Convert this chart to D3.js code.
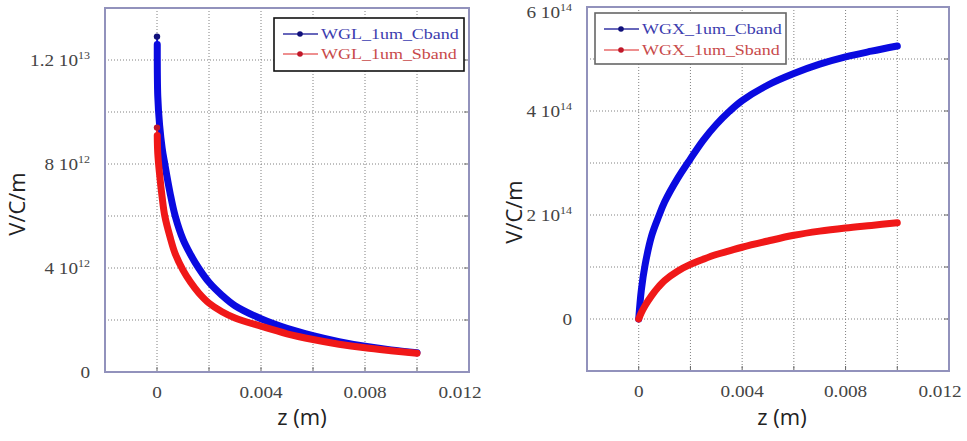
<!DOCTYPE html>
<html>
<head>
<meta charset="utf-8">
<script src="https://cdn.jsdelivr.net/npm/d3@7"></script>
<style>
  body { margin: 0; background: #fff; }
  svg { display: block; }
</style>
</head>
<body>
<div class="chart-area"></div>
<script>
// left panel (WGL) : z in m, values in V/C/m
const zLeft = [0, 0.00001, 0.00003, 0.0001, 0.0002, 0.0003, 0.0005, 0.0007, 0.001, 0.0013, 0.0016,
  0.002, 0.0025, 0.003, 0.004, 0.005, 0.006, 0.007, 0.008, 0.009, 0.010];
const wglCband = [12.9e12, 12.6e12, 10.6e12, 9.5e12, 8.6e12, 8.0e12, 6.9e12, 6.0e12, 5.1e12, 4.5e12, 4.0e12,
  3.45e12, 2.95e12, 2.55e12, 2.05e12, 1.68e12, 1.40e12, 1.17e12, 0.99e12, 0.85e12, 0.74e12];
const wglSband = [9.4e12, 9.1e12, 8.4e12, 7.6e12, 6.7e12, 6.0e12, 5.2e12, 4.55e12, 3.92e12, 3.44e12, 3.05e12,
  2.65e12, 2.32e12, 2.08e12, 1.76e12, 1.47e12, 1.25e12, 1.07e12, 0.93e12, 0.82e12, 0.72e12];

// right panel (WGX)
const zRight = [0, 0.0001, 0.00025, 0.0005, 0.00077, 0.001, 0.0015, 0.002, 0.0025, 0.003, 0.0035,
  0.004, 0.005, 0.006, 0.007, 0.008, 0.009, 0.010];
const wgxCband = [0, 0.55e14, 1.05e14, 1.6e14, 1.97e14, 2.25e14, 2.7e14, 3.08e14, 3.44e14, 3.74e14, 3.99e14,
  4.2e14, 4.5e14, 4.72e14, 4.9e14, 5.04e14, 5.15e14, 5.25e14];
const wgxSband = [0, 0.12e14, 0.26e14, 0.45e14, 0.62e14, 0.74e14, 0.92e14, 1.05e14, 1.15e14, 1.24e14, 1.31e14,
  1.38e14, 1.5e14, 1.61e14, 1.69e14, 1.75e14, 1.8e14, 1.85e14];

// tick labels
const xTickValues = [0, 0.004, 0.008, 0.012];
const xTickLabels = ["0", "0.004", "0.008", "0.012"];
const yTickValuesL = [0, 4e12, 8e12, 1.2e13];
const yTickLabelsL = [["0", ""], ["4 10", "12"], ["8 10", "12"], ["1.2 10", "13"]];
const yTickValuesR = [0, 2e14, 4e14, 6e14];
const yTickLabelsR = [["0", ""], ["2 10", "14"], ["4 10", "14"], ["6 10", "14"]];

const legendL = ["WGL_1um_Cband", "WGL_1um_Sband"];
const legendR = ["WGX_1um_Cband", "WGX_1um_Sband"];

let width = 967;
let height = 441;

const svg = d3.select(".chart-area").append("svg")
  .attr("width", width)
  .attr("height", height);

const blue = "#0a0ae0";
const red = "#f01818";
const frameColor = "#9292bc";
const serif = "'Liberation Serif', 'DejaVu Serif', serif";
const sans = "'Open Sans', 'Noto Sans', sans-serif";

function drawPanel(p) {
  const x = d3.scaleLinear().domain([-0.002, 0.012]).range([p.left, p.right]);
  const y = d3.scaleLinear().domain(p.yDomain).range([p.bottom, p.top]);
  const g = svg.append("g");

  // dotted grid
  g.append("g").selectAll("line")
    .data(x.ticks(7))
    .join("line")
    .attr("x1", d => x(d)).attr("x2", d => x(d))
    .attr("y1", p.top).attr("y2", p.bottom)
    .attr("stroke", "#808080")
    .attr("stroke-dasharray", "1,2");
  g.append("g").selectAll("line")
    .data(y.ticks(7))
    .join("line")
    .attr("x1", p.left).attr("x2", p.right)
    .attr("y1", d => y(d)).attr("y2", d => y(d))
    .attr("stroke", "#808080")
    .attr("stroke-dasharray", "1,2");

  // small inner ticks
  g.append("g").selectAll("line")
    .data(x.ticks(7))
    .join("line")
    .attr("x1", d => x(d)).attr("x2", d => x(d))
    .attr("y1", p.bottom).attr("y2", p.bottom - 5)
    .attr("stroke", "#666");
  g.append("g").selectAll("line")
    .data(y.ticks(7))
    .join("line")
    .attr("x1", p.right).attr("x2", p.right - 5)
    .attr("y1", d => y(d)).attr("y2", d => y(d))
    .attr("stroke", "#666");

  // frame
  g.append("rect")
    .attr("x", p.left).attr("y", p.top)
    .attr("width", p.right - p.left).attr("height", p.bottom - p.top)
    .attr("fill", "none")
    .attr("stroke", frameColor)
    .attr("stroke-width", 2);

  // x tick labels (last one kept inside the frame edge)
  g.append("g").selectAll("text")
    .data(xTickValues)
    .join("text")
    .attr("transform", d => `translate(${Math.min(x(d), p.right - 9)},${p.bottom + 26}) scale(1.2,1)`)
    .attr("text-anchor", "middle")
    .attr("font-family", serif)
    .attr("font-size", 16)
    .attr("fill", "#444")
    .text((d, i) => xTickLabels[i]);

  // y tick labels with exponent
  const yl = g.append("g").selectAll("text")
    .data(p.yTicks)
    .join("text")
    .attr("transform", d => `translate(${p.left - 15},${Math.max(y(d) + 6, p.top + 11)}) scale(1.2,1)`)
    .attr("text-anchor", "end")
    .attr("font-family", serif)
    .attr("font-size", 16)
    .attr("fill", "#444");
  yl.append("tspan").text((d, i) => p.yLabels[i][0]);
  yl.append("tspan")
    .attr("dy", -7)
    .attr("font-size", 10)
    .text((d, i) => p.yLabels[i][1]);

  // curves
  const line = d3.line()
    .x(d => x(d[0]))
    .y(d => y(d[1]))
    .curve(d3.curveCatmullRom.alpha(0.5));

  p.series.forEach(s => {
    const pts = d3.zip(p.z, s.values);
    const start = s.dotFirst ? 1 : 0;
    if (s.dotFirst) {
      g.append("path")
        .attr("d", d3.line().x(d => x(d[0])).y(d => y(d[1]))(pts.slice(0, 2)))
        .attr("fill", "none")
        .attr("stroke", s.color)
        .attr("stroke-width", 2);
      g.append("circle")
        .attr("cx", x(pts[0][0])).attr("cy", y(pts[0][1]))
        .attr("r", 3.2)
        .attr("fill", s.dark);
    }
    g.append("path")
      .attr("d", line(pts.slice(start)))
      .attr("fill", "none")
      .attr("stroke", s.color)
      .attr("stroke-width", 7)
      .attr("stroke-linecap", "round")
      .attr("stroke-linejoin", "round");
  });

  // legend
  const lg = g.append("g");
  lg.append("rect")
    .attr("x", p.legend.x).attr("y", p.legend.y)
    .attr("width", p.legend.w).attr("height", p.legend.h)
    .attr("fill", "#fff")
    .attr("stroke", p.legend.stroke)
    .attr("stroke-width", 1.6);
  const items = lg.selectAll("g")
    .data(p.series)
    .join("g")
    .attr("transform", (d, i) => `translate(${p.legend.x + 9},${p.legend.y + p.legend.row0 + i * p.legend.step})`);
  items.append("line")
    .attr("x1", 0).attr("x2", 35)
    .attr("stroke", d => d.legendLine)
    .attr("stroke-width", 1.5);
  items.append("circle")
    .attr("cx", 17).attr("r", 2.8)
    .attr("fill", d => d.dark);
  items.append("text")
    .attr("transform", "translate(38,5) scale(1.2,1)")
    .attr("font-family", serif)
    .attr("font-size", 15)
    .attr("fill", d => d.textColor)
    .text(d => d.name);

  // axis titles
  g.append("text")
    .attr("x", p.xTitleX).attr("y", 425)
    .attr("text-anchor", "middle")
    .attr("font-family", sans)
    .attr("font-size", 22)
    .attr("fill", "#222")
    .text("z (m)");
  g.append("text")
    .attr("transform", `translate(${p.yTitleX},${p.yTitleY}) rotate(-90)`)
    .attr("text-anchor", "middle")
    .attr("font-family", sans)
    .attr("font-size", 22)
    .attr("fill", "#222")
    .text("V/C/m");
}

drawPanel({
  left: 105, right: 469, top: 8, bottom: 372,
  yDomain: [0, 1.4e13],
  yTicks: yTickValuesL, yLabels: yTickLabelsL,
  z: zLeft,
  series: [
    {name: legendL[0], values: wglCband, color: blue, dark: "#10107a", legendLine: "#3434a4", textColor: "#3c3cae", dotFirst: true},
    {name: legendL[1], values: wglSband, color: red, dark: "#c0182a", legendLine: "#e86a6a", textColor: "#c84a4a", dotFirst: true}
  ],
  legend: {x: 274, y: 18, w: 190, h: 53, row0: 16, step: 20, stroke: "#111"},
  xTitleX: 302, yTitleX: 25, yTitleY: 204
});

drawPanel({
  left: 587, right: 949, top: 7, bottom: 371,
  yDomain: [-1e14, 6e14],
  yTicks: yTickValuesR, yLabels: yTickLabelsR,
  z: zRight,
  series: [
    {name: legendR[0], values: wgxCband, color: blue, dark: "#10107a", legendLine: "#3434a4", textColor: "#3c3cae", dotFirst: false},
    {name: legendR[1], values: wgxSband, color: red, dark: "#c0182a", legendLine: "#e86a6a", textColor: "#c84a4a", dotFirst: false}
  ],
  legend: {x: 595, y: 13, w: 191, h: 51, row0: 16, step: 21, stroke: "#666"},
  xTitleX: 782, yTitleX: 522, yTitleY: 212
});
</script>
</body>
</html>
